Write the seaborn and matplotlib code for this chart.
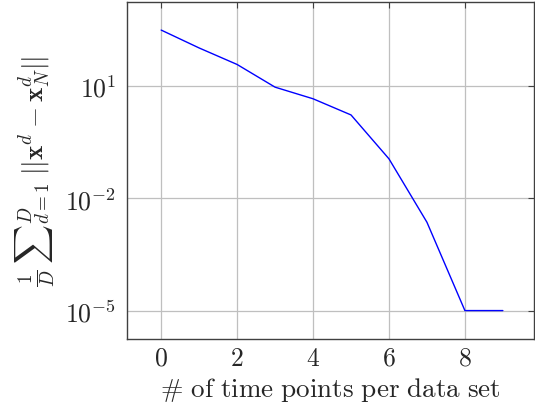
import numpy as np
import pandas as pd
import matplotlib
matplotlib.use("Agg")
import matplotlib.pyplot as plt
import seaborn as sns

time_points = [0, 1, 2, 3, 4, 5, 6, 7, 8, 9]
error_values = [316.0, 105.0, 38.0, 9.4, 4.6, 1.7, 0.114, 2.3e-3, 1e-5, 1e-5]
y_tick_values = [1e-5, 1e-2, 1e1]
y_tick_labels = [r"$10^{-5}$", r"$10^{-2}$", r"$10^{1}$"]
x_tick_values = [0, 2, 4, 6, 8]

sns.set_style("white")
plt.rcParams["mathtext.fontset"] = "cm"
plt.rcParams["font.family"] = ["cmr10", "DejaVu Serif"]
plt.rcParams["axes.formatter.use_mathtext"] = True

df = pd.DataFrame({"t": time_points, "err": error_values})

fig = plt.figure(figsize=(5.35, 4.14), dpi=100)
ax = fig.add_axes([127 / 535, 1 - 340 / 414, (534 - 127) / 535, (340 - 3) / 414])

sns.lineplot(data=df, x="t", y="err", ax=ax, color="blue", linewidth=1.0)
ax.set_yscale("log")
ax.set_xlim(-0.9, 9.82)
ax.set_ylim(10 ** -5.76, 10 ** 3.25)

ax.set_xticks(x_tick_values)
ax.set_xticklabels([rf"${v}$" for v in x_tick_values])
ax.set_yticks(y_tick_values)
ax.set_yticklabels(y_tick_labels)
ax.yaxis.set_minor_locator(matplotlib.ticker.NullLocator())

ax.grid(True, color="#bfbfbf", linewidth=0.9)
ax.set_axisbelow(True)
for s in ax.spines.values():
    s.set_color("#404040")
    s.set_linewidth(1.0)
    s.set_visible(True)
ax.tick_params(axis="both", which="major", direction="in", length=4, width=0.8,
               color="#404040", top=True, right=True, labelsize=18.5)
ax.tick_params(axis="x", pad=5)
ax.tick_params(axis="y", pad=8)

ax.set_xlabel(r"$\#\ \mathrm{of\ time\ points\ per\ data\ set}$", fontsize=19.5, labelpad=4)
ax.set_ylabel(r"$\frac{1}{D}\,{\sum}_{d=1}^{D}\;||\mathbf{x}^d-\mathbf{x}_N^d||$", fontsize=19.5, labelpad=6)

fig.savefig("out.png", dpi=100)
